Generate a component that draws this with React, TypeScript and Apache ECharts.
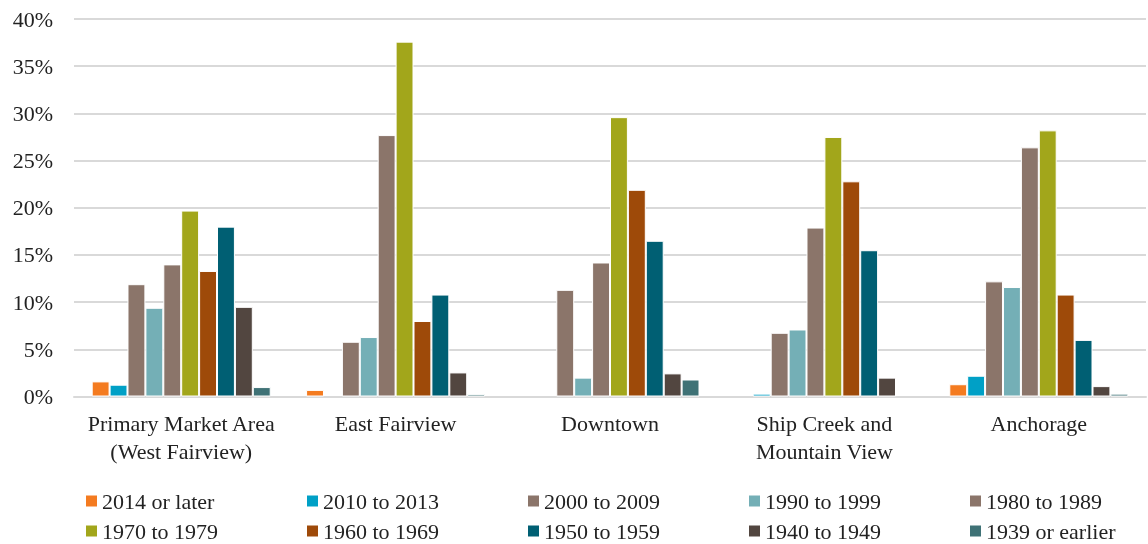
import React, { useEffect, useRef } from "react";
import * as echarts from "echarts";

const categories = [
  "Primary Market Area\n(West Fairview)",
  "East Fairview",
  "Downtown",
  "Ship Creek and\nMountain View",
  "Anchorage",
];

const seriesNames = [
  "2014 or later",
  "2010 to 2013",
  "2000 to 2009",
  "1990 to 1999",
  "1980 to 1989",
  "1970 to 1979",
  "1960 to 1969",
  "1950 to 1959",
  "1940 to 1949",
  "1939 or earlier",
];

const colors = [
  "#F47B20",
  "#00A0C6",
  "#8B756A",
  "#74AFB6",
  "#8B756A",
  "#A2A61B",
  "#9E4A09",
  "#005F73",
  "#524640",
  "#3F7276",
];

// percent values per series, in category order
const s2014 = [1.6, 0.7, 0, 0, 1.3];
const s2010 = [1.25, 0, 0, 0.3, 2.2];
const s2000 = [11.9, 5.8, 11.3, 6.75, 12.2];
const s1990 = [9.4, 6.3, 2.0, 7.1, 11.6];
const s1980 = [14.0, 27.7, 14.2, 17.9, 26.4];
const s1970 = [19.7, 37.6, 29.6, 27.5, 28.2];
const s1960 = [13.3, 8.0, 21.9, 22.8, 10.8];
const s1950 = [18.0, 10.8, 16.5, 15.5, 6.0];
const s1940 = [9.5, 2.55, 2.45, 2.0, 1.1];
const s1939 = [1.0, 0.25, 1.8, 0, 0.3];

const seriesData = [s2014, s2010, s2000, s1990, s1980, s1970, s1960, s1950, s1940, s1939];

const yTicks = [0, 5, 10, 15, 20, 25, 30, 35, 40];

const FONT = "Liberation Serif";

export default function App() {
  const ref = useRef<HTMLDivElement>(null);
  useEffect(() => {
    if (!ref.current) return;
    const chart = echarts.init(ref.current, null, { renderer: "svg" });
    const legendCols = [84, 305, 526, 747, 968];
    const legendRows = [490, 520];
    const legends = seriesNames.map((name, i) => ({
      show: true,
      data: [name],
      left: legendCols[i % 5],
      top: legendRows[Math.floor(i / 5)],
      itemWidth: 13,
      itemHeight: 13,
      itemGap: 0,
      icon: "rect",
      padding: 0,
      textStyle: { fontFamily: FONT, fontSize: 22, color: "#222", padding: [0, 0, 0, -1] },
      selectedMode: false,
    }));
    chart.setOption({
      animation: false,
      color: colors,
      textStyle: { fontFamily: FONT },
      grid: { left: 74, right: 2, top: 19, bottom: 147.5, containLabel: false },
      legend: legends,
      xAxis: {
        type: "category",
        data: categories,
        axisTick: { show: false },
        axisLine: { show: true, lineStyle: { color: "#D9D9D9", width: 2 } },
        axisLabel: {
          fontFamily: FONT,
          fontSize: 22,
          color: "#222",
          lineHeight: 28,
          margin: 13,
          interval: 0,
        },
      },
      yAxis: {
        type: "value",
        min: yTicks[0],
        max: yTicks[yTicks.length - 1],
        interval: 5,
        axisLine: { show: false },
        axisTick: { show: false },
        splitLine: { lineStyle: { color: "#D9D9D9", width: 2 } },
        axisLabel: {
          fontFamily: FONT,
          fontSize: 22,
          color: "#222",
          margin: 21,
          formatter: (v: number) => `${v}%`,
        },
      },
      series: seriesNames.map((name, i) => ({
        name,
        type: "bar",
        data: seriesData[i].map((v) => (v === 0 ? null : v)),
        barGap: "0%",
        barCategoryGap: "16.5%",
        itemStyle: { color: colors[i], borderColor: "#fff", borderWidth: 1 },
      })),
    });
    return () => chart.dispose();
  }, []);
  return (
    <div
      ref={ref}
      style={{ position: "fixed", left: 0, top: 0, width: 1148, height: 544 }}
    />
  );
}
